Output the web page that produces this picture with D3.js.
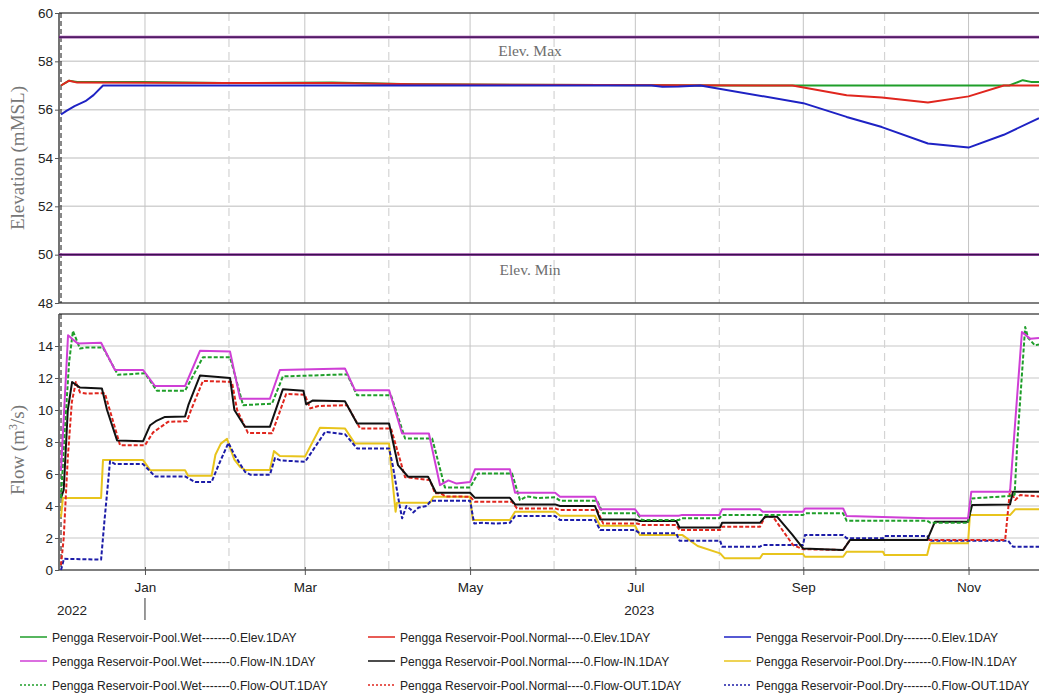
<!DOCTYPE html>
<html><head><meta charset="utf-8">
<script src="https://cdn.jsdelivr.net/npm/d3@7"></script>
<style>
body{margin:0;background:#fff;}
svg{display:block;}
.tick text{font-family:"Liberation Sans",Arial,sans-serif;font-size:13.5px;fill:#222;}
</style></head>
<body>
<svg id="c" width="1039" height="696"></svg>
<script>
// ---- data (day = days since 2022-12-01) ----
const startDate = new Date(2022, 11, 1);
const totalDays = 361;
const elevTicks = [48, 50, 52, 54, 56, 58, 60];
const flowTicks = [0, 2, 4, 6, 8, 10, 12, 14];
const elevMax = 59, elevMin = 50;

const wetElev = [[0,57.0],[3,57.2],[6,57.15],[30,57.15],[60,57.1],[100,57.12],[130,57.05],[200,57.02],[240,57.0],[350,57.0],[355,57.22],[358,57.15],[361,57.15]];
const normalElev = [[0,57.0],[3,57.2],[6,57.12],[60,57.1],[100,57.1],[130,57.05],[200,57.02],[270,57.0],[290,56.6],[303,56.5],[320,56.3],[335,56.55],[348,57.0],[361,57.0]];
const dryElev = [[0,55.8],[2,55.95],[5,56.15],[9,56.35],[12,56.6],[15.5,57.0],[218,57.0],[222,56.95],[228,56.96],[236,57.0],[274,56.27],[290,55.7],[303,55.28],[320,54.6],[335,54.43],[348,54.96],[361,55.65]];

const wetFlowIn = [[0,6.2],[2.6,14.67],[4.4,14.4],[6.3,14.15],[14.8,14.2],[19.9,12.5],[30.3,12.5],[34.7,11.5],[45.8,11.5],[51.3,13.7],[62.4,13.65],[66.1,10.7],[77.1,10.7],[80.8,12.5],[104.8,12.6],[108.5,11.24],[121.1,11.24],[125.9,8.53],[135.8,8.53],[139.9,5.3],[143,5.6],[146,5.4],[151,5.5],[152.8,6.29],[165.7,6.29],[167.6,4.83],[182.4,4.83],[184.2,4.58],[197.1,4.58],[199,3.79],[211.9,3.79],[213.7,3.39],[228,3.39],[229,3.43],[243,3.43],[244,3.79],[258,3.79],[259,3.64],[273.9,3.64],[274.6,3.85],[288.7,3.85],[290,3.37],[319.7,3.23],[334.8,3.23],[336,4.89],[350.3,4.89],[354.7,14.88],[357.7,14.46],[361,14.5]];
const wetFlowOut = [[0,4.5],[1.5,9],[3,13],[4.4,14.94],[7,13.84],[9,13.9],[15.5,13.9],[21,12.2],[31,12.3],[35.4,11.2],[45.8,11.2],[52.4,13.3],[62.4,13.3],[67.2,10.3],[77.9,10.4],[81.9,12.1],[105.6,12.23],[109.3,10.92],[121.8,10.92],[127,8.22],[137,8.22],[141.7,5.16],[151,5.16],[153.9,6.03],[166.5,6.03],[169.4,4.37],[172,4.6],[176,4.5],[182.4,4.55],[184.2,4.33],[197.9,4.33],[200.1,3.54],[212.6,3.54],[214.5,3.12],[228,3.12],[229,3.23],[243,3.23],[244,3.43],[273.9,3.43],[274.6,3.54],[288.7,3.54],[290,3.08],[319.7,3.08],[321,2.95],[334.8,2.95],[336,4.47],[350,4.62],[352,4.7],[353,8],[355.9,15.19],[357,14.5],[359.5,14.04],[361,14.1]];

const normalFlowIn = [[0,4.5],[1,5],[2.5,10],[4.1,11.75],[7,11.4],[15.1,11.35],[17,10],[20.7,8.1],[30.3,8.05],[32.9,9.05],[35,9.3],[38.4,9.57],[45.8,9.6],[47,10.3],[51.3,12.15],[62.4,12.0],[64,10],[67.9,8.95],[77.1,8.95],[81.9,11.3],[89.5,11.2],[90.5,10.35],[93,10.6],[104.8,10.55],[109.3,9.16],[121.1,9.16],[124.4,6.55],[128.1,5.83],[135.5,5.83],[138.4,4.83],[151,4.83],[152.8,4.51],[165.7,4.51],[167.6,4.1],[182.4,4.1],[184.2,4.0],[197.1,4.0],[199,3.16],[211.9,3.16],[213.7,3.06],[227.1,3.06],[228.3,2.66],[243.3,2.66],[244,2.95],[258,2.95],[259.9,3.33],[264.3,3.33],[270,2.2],[273.9,1.35],[288.7,1.25],[291.2,1.87],[319.7,1.87],[322.6,3.02],[334.8,3.02],[336.3,4.06],[350.3,4.1],[351.4,4.89],[361,4.89]];
const normalFlowOut = [[0,0.3],[1,2],[2.5,7],[4,10.5],[5.5,11.75],[7,11.1],[9.2,11.03],[16.2,11.05],[18,10],[21.8,7.8],[31,7.8],[34,8.6],[39.5,9.26],[46.5,9.3],[48,10],[52.4,11.82],[63.1,11.75],[65,10],[69,8.57],[77.9,8.55],[83.1,11.0],[90,10.95],[92,10.1],[95,10.25],[105.6,10.3],[110.4,8.85],[121.8,8.85],[127,5.8],[136.2,5.62],[138,4.8],[140,4.8],[142,4.6],[151,4.58],[152.8,4.26],[166.5,4.26],[168.3,3.85],[182.4,3.85],[184.2,3.75],[197.9,3.75],[200.1,2.91],[212.6,2.91],[214.5,2.81],[227.1,2.81],[228.3,2.5],[243.3,2.5],[244,2.7],[258,2.7],[259.9,3.33],[262.8,3.33],[270.2,1.56],[273.9,1.3],[288.7,1.25],[291.2,1.87],[348.5,1.87],[350.3,5.0],[352.2,4.37],[354,4.68],[361,4.6]];

const dryFlowIn = [[0,3.3],[0.7,4.5],[14.8,4.5],[15.5,6.87],[30.3,6.87],[32.9,6.24],[45.8,6.24],[46.9,5.89],[55.6,5.89],[57,7.2],[59,7.9],[61.3,8.2],[62.5,7.6],[64,6.9],[66.1,6.45],[68,6.25],[77.1,6.25],[78.6,7.43],[80.8,7.12],[90.1,7.1],[95.6,8.89],[104.8,8.85],[108.5,7.91],[121.1,7.91],[121.8,6.5],[123.5,3.64],[124,4.2],[136.2,4.2],[137.5,4.58],[151,4.58],[152,3.12],[165.7,3.12],[167.6,3.64],[182.4,3.64],[184.2,3.39],[197.1,3.39],[199,2.77],[211.9,2.77],[213.7,2.18],[229.4,2.18],[235,1.5],[243.3,1.04],[245,0.73],[258,0.73],[259,1.0],[273.9,1.0],[274.6,0.83],[288.7,0.83],[290,1.14],[303.4,1.14],[304,0.94],[319.7,0.94],[320.8,1.67],[334.8,1.67],[335.5,3.43],[350.3,3.43],[352.2,3.79],[361,3.79]];
const dryFlowOut = [[0,0],[1.1,0.7],[14.8,0.65],[16,3],[18.1,6.8],[20,6.62],[30.3,6.62],[34.7,5.85],[45.8,5.85],[49.5,5.5],[55.6,5.5],[58,6.5],[61.8,7.95],[64,7.2],[67.9,6.14],[70,5.95],[77.1,5.95],[79,7.0],[81,6.85],[90.1,6.76],[97.5,8.63],[104.8,8.49],[109.3,7.6],[121.1,7.6],[122.5,6.5],[124.5,4.5],[125.9,3.23],[127.5,4.0],[129,3.8],[130,3.6],[132,3.9],[135,4.0],[136.5,4.33],[151,4.33],[152.5,2.91],[156,2.95],[160,2.9],[165.7,2.95],[167.6,3.37],[182.4,3.37],[184.2,3.12],[197.1,3.12],[199,2.5],[211.9,2.5],[213.7,2.29],[227.1,2.29],[228.3,1.83],[243.3,1.83],[244,1.46],[258,1.46],[259,1.56],[273.9,1.56],[274.6,2.18],[288.7,2.18],[290,1.98],[303.4,1.98],[304,2.12],[319.7,2.12],[320.8,1.83],[349.6,1.83],[351.4,1.46],[361,1.46]];

const legendLabels = [
  "Pengga Reservoir-Pool.Wet-------0.Elev.1DAY","Pengga Reservoir-Pool.Normal----0.Elev.1DAY","Pengga Reservoir-Pool.Dry-------0.Elev.1DAY",
  "Pengga Reservoir-Pool.Wet-------0.Flow-IN.1DAY","Pengga Reservoir-Pool.Normal----0.Flow-IN.1DAY","Pengga Reservoir-Pool.Dry-------0.Flow-IN.1DAY",
  "Pengga Reservoir-Pool.Wet-------0.Flow-OUT.1DAY","Pengga Reservoir-Pool.Normal----0.Flow-OUT.1DAY","Pengga Reservoir-Pool.Dry-------0.Flow-OUT.1DAY"
];

// ---- styles ----
const C = {green:"#1f9e2a", red:"#e0261e", blue:"#1e22c4", magenta:"#cf3fd6", black:"#111", yellow:"#e8c41c", dblue:"#1c1ca8"};
const elevSeries = [
  {d:wetElev, c:C.green, dash:null},
  {d:normalElev, c:C.red, dash:null},
  {d:dryElev, c:C.blue, dash:null}
];
const flowSeries = [
  {d:dryFlowIn, c:C.yellow, dash:null},
  {d:dryFlowOut, c:C.dblue, dash:"4,2"},
  {d:normalFlowOut, c:C.red, dash:"4,2"},
  {d:normalFlowIn, c:C.black, dash:null},
  {d:wetFlowOut, c:C.green, dash:"4,2"},
  {d:wetFlowIn, c:C.magenta, dash:null}
];
const legendStyle = [
  {c:C.green,dash:null},{c:C.red,dash:null},{c:C.blue,dash:null},
  {c:C.magenta,dash:null},{c:C.black,dash:null},{c:C.yellow,dash:null},
  {c:C.green,dash:"2,2"},{c:C.red,dash:"2,2"},{c:C.dblue,dash:"2,2"}
];

const svg = d3.select("#c");
const L = 59, R = 1039;
const x = d3.scaleTime().domain([startDate, d3.timeDay.offset(startDate, totalDays)]).range([61, 1039]);
const yTop = d3.scaleLinear().domain([48, 60]).range([303, 13]);
const yBot = d3.scaleLinear().domain([0, 16]).range([570, 314]);
const toDate = d => d3.timeDay.offset(startDate, Math.floor(d)).getTime() + (d - Math.floor(d)) * 864e5;

const months = d3.timeMonth.range(d3.timeMonth.ceil(d3.timeDay.offset(startDate,1)), d3.timeDay.offset(startDate, totalDays));
const oddMonths = months.filter(m => m.getMonth() % 2 === 0);
const evenMonths = months.filter(m => m.getMonth() % 2 === 1);

function panel(y, ticks, top, bottom, hgrid, gridColor) {
  const g = svg.append("g");
  g.selectAll(".hg").data(hgrid).join("line")
    .attr("x1", L).attr("x2", R).attr("y1", d => y(d)).attr("y2", d => y(d))
    .attr("stroke", gridColor).attr("stroke-width", 1.5);
  g.selectAll(".vgs").data(oddMonths).join("line")
    .attr("x1", d => x(d)).attr("x2", d => x(d)).attr("y1", top).attr("y2", bottom)
    .attr("stroke", "#c4c4c4").attr("stroke-width", 1);
  g.selectAll(".vgd").data(evenMonths).join("line")
    .attr("x1", d => x(d)).attr("x2", d => x(d)).attr("y1", top).attr("y2", bottom)
    .attr("stroke", "#d4d4d4").attr("stroke-width", 1.2).attr("stroke-dasharray", "8,5");
  g.append("line").attr("x1", L).attr("x2", R).attr("y1", top).attr("y2", top).attr("stroke", "#555").attr("stroke-width", 1.5);
  g.append("line").attr("x1", L).attr("x2", R).attr("y1", bottom).attr("y2", bottom).attr("stroke", "#555").attr("stroke-width", 1.5);
  g.append("line").attr("x1", x(startDate)).attr("x2", x(startDate)).attr("y1", top).attr("y2", bottom)
    .attr("stroke", "#111").attr("stroke-width", 1).attr("stroke-dasharray", "5,3");
  const ax = svg.append("g").attr("transform", `translate(${L},0)`)
    .call(d3.axisLeft(y).tickValues(ticks).tickSize(4).tickPadding(2).tickFormat(d3.format("d")));
  ax.select(".domain").attr("stroke", "#444").attr("stroke-width", 1.5).attr("d", `M0,${top}V${bottom}`);
  ax.selectAll(".tick line").attr("stroke", "#555");
  return g;
}

panel(yTop, elevTicks, 13, 303, [52, 54, 56, 58], "#d2d2d2");
panel(yBot, flowTicks, 314, 570, [2, 4, 6, 8, 10, 12, 14], "#dadada");

// Elev max/min reference lines
const refG = svg.append("g");
[elevMax, elevMin].forEach(v => {
  refG.append("line").attr("x1", L).attr("x2", R).attr("y1", yTop(v)).attr("y2", yTop(v))
    .attr("stroke", "#9a4aa6").attr("stroke-width", 2.6);
  refG.append("line").attr("x1", L).attr("x2", R).attr("y1", yTop(v)).attr("y2", yTop(v))
    .attr("stroke", "#3a1050").attr("stroke-width", 1.4);
});
const serif = "'Liberation Serif','Times New Roman',serif";
refG.append("text").attr("x", 530).attr("y", yTop(elevMax) + 19).attr("text-anchor", "middle")
  .attr("font-family", serif).attr("font-size", 15.5).attr("fill", "#6e6e6e").text("Elev. Max");
refG.append("text").attr("x", 530).attr("y", yTop(elevMin) + 20).attr("text-anchor", "middle")
  .attr("font-family", serif).attr("font-size", 15.5).attr("fill", "#6e6e6e").text("Elev. Min");

// series
const lineTop = d3.line().x(p => x(toDate(p[0]))).y(p => yTop(p[1]));
const lineBot = d3.line().x(p => x(toDate(p[0]))).y(p => yBot(p[1]));
svg.append("defs").append("clipPath").attr("id", "clip").append("rect").attr("x", L).attr("y", 0).attr("width", R - L).attr("height", 600);
const sg = svg.append("g").attr("clip-path", "url(#clip)");
elevSeries.forEach(s => sg.append("path").attr("d", lineTop(s.d)).attr("fill", "none")
  .attr("stroke", s.c).attr("stroke-width", 2).attr("stroke-linejoin", "round"));
flowSeries.forEach(s => sg.append("path").attr("d", lineBot(s.d)).attr("fill", "none")
  .attr("stroke", s.c).attr("stroke-width", 2).attr("stroke-linejoin", "round")
  .attr("stroke-dasharray", s.dash));

// bottom axis
const bx = svg.append("g").attr("transform", "translate(0,570)")
  .call(d3.axisBottom(x).tickValues(oddMonths).tickSize(5).tickPadding(7).tickFormat(d3.timeFormat("%b")));
bx.select(".domain").remove();
bx.selectAll(".tick line").attr("stroke", "#555").attr("y1", -3);
const yr = svg.append("g").attr("font-family", "'Liberation Sans',Arial,sans-serif").attr("font-size", 13.5).attr("fill", "#222");
yr.append("text").attr("x", 72).attr("y", 615).attr("text-anchor", "middle").text(d3.timeFormat("%Y")(startDate));
yr.append("text").attr("x", x(new Date(2023, 6, 1)) + 4).attr("y", 615).attr("text-anchor", "middle").text("2023");
svg.append("line").attr("x1", x(new Date(2023, 0, 1))).attr("x2", x(new Date(2023, 0, 1))).attr("y1", 598).attr("y2", 620).attr("stroke", "#333");

// axis titles
svg.append("text").attr("transform", `translate(24,${yTop(54)}) rotate(-90)`).attr("text-anchor", "middle")
  .attr("font-family", serif).attr("font-size", 19).attr("fill", "#777").text("Elevation (mMSL)");
const ft = svg.append("text").attr("transform", `translate(24,${yBot(7.5)}) rotate(-90)`).attr("text-anchor", "middle")
  .attr("font-family", serif).attr("font-size", 19).attr("fill", "#777");
ft.append("tspan").text("Flow (m");
ft.append("tspan").attr("font-size", 12).attr("dy", -7).text("3");
ft.append("tspan").attr("dy", 7).text("/s)");

// legend
const colX = [20, 368, 724];
const rowY = [637, 661, 685];
const lg = svg.append("g").attr("font-family", "'Liberation Sans',Arial,sans-serif").attr("font-size", 12.1).attr("fill", "#222");
legendLabels.forEach((t, i) => {
  const cx = colX[i % 3], cy = rowY[Math.floor(i / 3)];
  lg.append("line").attr("x1", cx).attr("x2", cx + 27).attr("y1", cy).attr("y2", cy)
    .attr("stroke", legendStyle[i].c).attr("stroke-width", 1.5).attr("stroke-dasharray", legendStyle[i].dash);
  lg.append("text").attr("x", cx + 32).attr("y", cy + 4.5).text(t);
});
</script>
</body></html>
